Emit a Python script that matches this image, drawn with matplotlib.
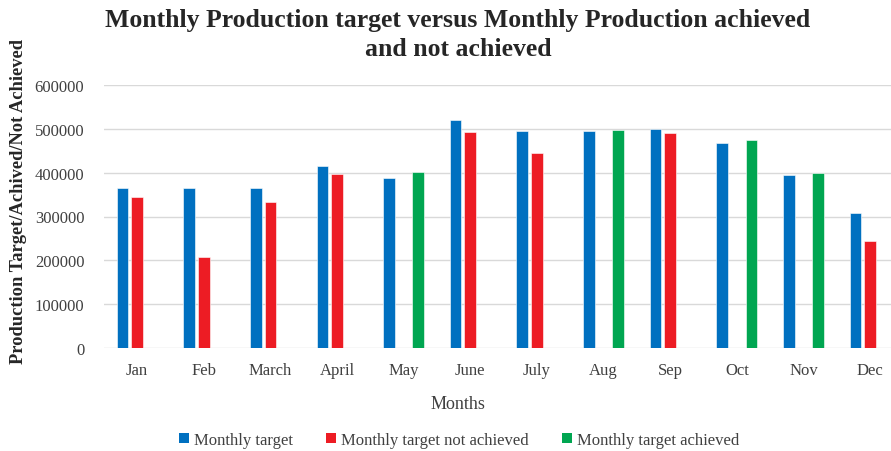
import matplotlib
matplotlib.use("Agg")
import matplotlib.pyplot as plt
import numpy as np
from matplotlib.patches import Patch

months = ["Jan", "Feb", "March", "April", "May", "June", "July", "Aug", "Sep", "Oct", "Nov", "Dec"]
target = [366000, 364000, 364000, 415000, 388000, 519000, 494000, 494000, 500000, 467000, 395000, 309000]
not_achieved = [345000, 207000, 333000, 396000, np.nan, 493000, 445000, np.nan, 489000, np.nan, np.nan, 245000]
achieved = [np.nan, np.nan, np.nan, np.nan, 401000, np.nan, np.nan, 498000, np.nan, 473000, 400000, np.nan]
yticks = [0, 100000, 200000, 300000, 400000, 500000, 600000]

series_names = ["Monthly target", "Monthly target not achieved", "Monthly target achieved"]
colors = ["#0070c0", "#ed1c24", "#00a651"]

plt.rcParams['font.family'] = ['Liberation Serif', 'DejaVu Serif']

W, H = 891, 452
fig = plt.figure(figsize=(W / 100, H / 100), dpi=100)
left_px, right_px, top_px, bot_px = 103.7, 903.6, 85.7, 349.3
ax = fig.add_axes([left_px / W, 1 - bot_px / H, (right_px - left_px) / W, (bot_px - top_px) / H])

x = np.arange(len(months))
bw = 0.175
step = 0.22
for i, (vals, c) in enumerate(zip([target, not_achieved, achieved], colors)):
    ax.bar(x + (i - 1) * step, vals, width=bw, color=c, edgecolor="white", linewidth=0.4, zorder=3)

ax.set_xlim(-0.5, len(months) - 0.5)
ax.set_ylim(0, 600000)
ax.set_yticks(yticks)
ax.set_yticklabels([str(v) for v in yticks])
ax.set_xticks(x)
ax.set_xticklabels(months)
ax.tick_params(axis="both", length=0, labelsize=12, labelcolor="#404040")
ax.tick_params(axis="x", pad=10)
ax.tick_params(axis="y", pad=14)
ax.grid(axis="y", color="#d9d9d9", linewidth=1.0, zorder=0)
for s in ax.spines.values():
    s.set_visible(False)

fig.text(458 / W, 1 - 35 / H, "Monthly Production target versus Monthly Production achieved\nand not achieved",
         ha="center", va="center", fontsize=18.5, fontweight="bold", color="#262626", linespacing=1.33)
fig.text(458 / W, 1 - 405 / H, "Months", ha="center", va="center", fontsize=13, color="#404040")
fig.text(19 / W, 1 - 201 / H, "Production Target/Achived/Not Achieved", rotation=90,
         ha="center", va="center", fontsize=13.3, fontweight="bold", color="#262626")

handles = [Patch(facecolor=c, edgecolor="none") for c in colors]
fig.legend(handles, series_names, loc="center", bbox_to_anchor=(459 / W, 1 - 441 / H), ncol=3,
           frameon=False, fontsize=12, handlelength=0.6, handleheight=0.6, handletextpad=0.3,
           columnspacing=2.0, labelcolor="#404040")

fig.savefig("out.png", dpi=100)
